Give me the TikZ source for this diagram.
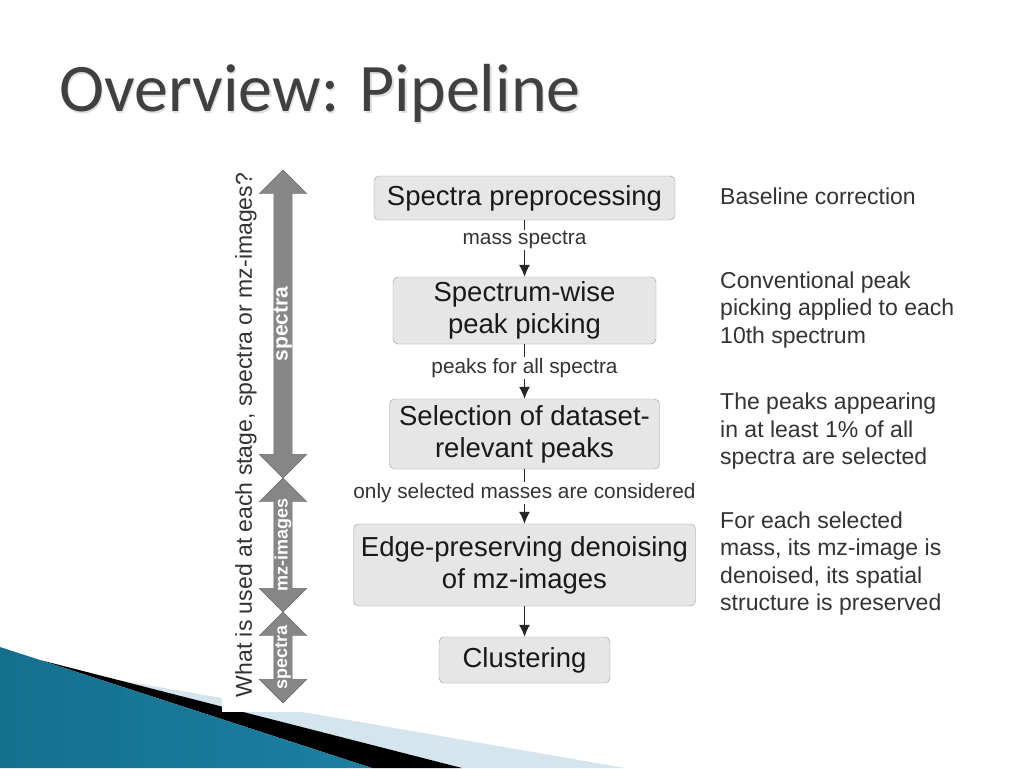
\documentclass[tikz,border=0pt]{standalone}
\usepackage{fontspec}
\setmainfont{Liberation Sans}
\newfontfamily\titlefont{Carlito}
\usetikzlibrary{shapes.arrows,arrows.meta}

\definecolor{titlegray}{HTML}{404040}
\definecolor{boxfill}{HTML}{E6E6E6}
\definecolor{boxedge}{HTML}{9A9A9A}
\definecolor{arrowgray}{HTML}{878787}
\definecolor{arrowedge}{HTML}{6B6B6B}
\definecolor{notegray}{HTML}{333333}
\definecolor{tealdark}{HTML}{15708E}
\definecolor{teallight}{HTML}{4BB2D3}
\definecolor{tealmid}{HTML}{1C7FA2}
\definecolor{paleblue}{HTML}{D5E5EE}

\tikzset{
  stage/.style={draw=boxedge, fill=boxfill, rounded corners=5pt, align=center, inner sep=0pt,
    font=\fontsize{27.5}{32}\selectfont, text=black!90},
  flowlabel/.style={fill=white, inner sep=1.5pt, font=\fontsize{20.8}{24}\selectfont, text=notegray},
  note/.style={anchor=west, align=left, inner sep=0pt, font=\fontsize{23}{27.5}\selectfont, text=notegray},
  usage/.style={double arrow, draw=arrowedge, fill=arrowgray, rotate=90, inner xsep=0pt, inner ysep=9pt,
    double arrow head extend=14.5pt, double arrow tip angle=90},
  usagelabel/.style={rotate=90, text=white, inner sep=0pt},
  flow/.style={-{Latex[length=12pt,width=11pt]}, line width=1.1pt, draw=black!85}
}

\begin{document}
\begin{tikzpicture}[x=1pt,y=-1pt]
\useasboundingbox (0,0) rectangle (1024,768);
\fill[white] (0,0) rectangle (1024,768);

% swoosh in the lower left corner
\fill[paleblue] (118,680) -- (625,768) -- (462,768) -- cycle;
\fill[black] (40,660) -- (462,768) -- (372,768) -- cycle;
\shade[left color=tealdark, middle color=teallight, right color=tealmid] (0,647) -- (372,768) -- (0,768) -- cycle;
\fill[white] (222,150) rectangle (1000,712);

% title
\node[anchor=base west, inner sep=0pt, text=black!13, font=\titlefont\fontsize{68}{68}\selectfont] (titleshadow) at (60.5,113) {Overview: Pipeline};
\node[anchor=base west, inner sep=0pt, text=titlegray, font=\titlefont\fontsize{68}{68}\selectfont] (title) at (59,111.5) {Overview: Pipeline};

% pipeline stages
\node[stage, minimum width=301pt, minimum height=44pt] (prep) at (524.5,198) {Spectra preprocessing};
\node[stage, minimum width=263pt, minimum height=67pt] (pick) at (524.5,310.5) {Spectrum-wise\\peak picking};
\node[stage, minimum width=270pt, minimum height=70pt] (select) at (524.5,434) {Selection of dataset-\\relevant peaks};
\node[stage, minimum width=342pt, minimum height=82pt] (denoise) at (524.5,565) {Edge-preserving denoising\\of mz-images};
\node[stage, minimum width=171pt, minimum height=46pt] (cluster) at (524.5,660) {Clustering};

\draw[flow] (prep) -- node[flowlabel, pos=0.35] (lblmass) {mass spectra} (pick);
\draw[flow] (pick) -- node[flowlabel, pos=0.44] (lblpeaks) {peaks for all spectra} (select);
\draw[flow] (select) -- node[flowlabel, pos=0.44] (lblmasses) {only selected masses are considered} (denoise);
\draw[flow] (denoise) -- (cluster);

% notes on the right
\node[note] (noteprep) at (720,196) {Baseline correction};
\node[note] (notepick) at (720,310) {Conventional peak\\picking applied to each\\10th spectrum};
\node[note] (noteselect) at (720,431.5) {The peaks appearing\\in at least 1\% of all\\spectra are selected};
\node[note] (notedenoise) at (720,563.5) {For each selected\\mass, its mz-image is\\denoised, its spatial\\structure is preserved};

% what is used at each stage
\node[rotate=90, inner sep=0pt, text=notegray, font=\fontsize{23}{23}\selectfont] (question) at (246,435) {What is used at each stage, spectra or mz-images?};
\node[usage, minimum height=308pt] (usespec) at (283,324) {};
\node[usage, minimum height=134pt] (usemz) at (283,545) {};
\node[usage, minimum height=91pt] (usespecb) at (283,657.5) {};
\node[usagelabel, font=\bfseries\fontsize{21}{21}\selectfont] (lblspec) at (usespec.center) {spectra};
\node[usagelabel, font=\bfseries\fontsize{18}{18}\selectfont] (lblmz) at (usemz.center) {mz-images};
\node[usagelabel, font=\bfseries\fontsize{18}{18}\selectfont] (lblspecb) at (usespecb.center) {spectra};
\end{tikzpicture}
\end{document}
